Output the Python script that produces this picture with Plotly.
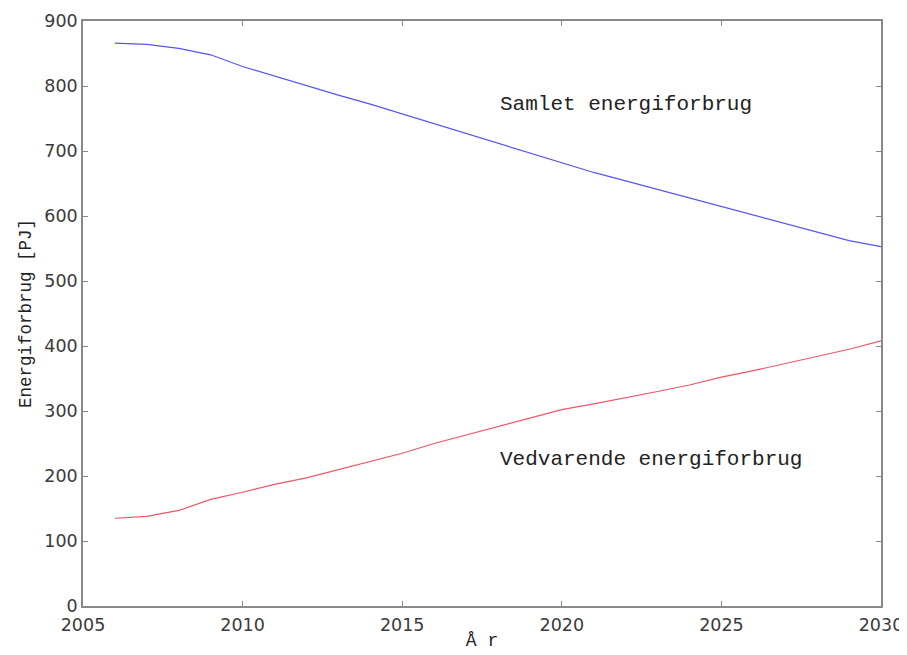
import plotly.graph_objects as go

years = list(range(2006, 2031))
samlet = [866, 864, 858, 848, 830, 815, 800, 786, 772, 757, 742, 727, 713, 697,
          683, 667, 654, 641, 627, 614, 601, 588, 575, 562, 553]
vedvarende = [135, 138, 147, 164, 175, 187, 197, 210, 222, 235, 250, 263, 276, 290,
              302, 311, 320, 330, 340, 352, 362, 373, 383, 395, 408]

x_ticks = [2005, 2010, 2015, 2020, 2025, 2030]
y_ticks = [0, 100, 200, 300, 400, 500, 600, 700, 800, 900]

fig = go.Figure()
fig.add_trace(go.Scatter(x=years, y=samlet, mode="lines",
                         line=dict(color="#5555ee", width=1.2), showlegend=False))
fig.add_trace(go.Scatter(x=years, y=vedvarende, mode="lines",
                         line=dict(color="#ee5566", width=1.2), showlegend=False))

mono = "Liberation Mono, Courier New, monospace"
fig.add_annotation(x=2018.0, y=771, text="Samlet energiforbrug", showarrow=False,
                   xanchor="left", yanchor="middle", font=dict(family=mono, size=21, color="#222"))
fig.add_annotation(x=2018.0, y=225, text="Vedvarende energiforbrug", showarrow=False,
                   xanchor="left", yanchor="middle", font=dict(family=mono, size=21, color="#222"))

axis_common = dict(showgrid=False, zeroline=False, showline=True, linecolor="#888",
                   linewidth=1.5, mirror="ticks", ticks="inside", ticklen=5,
                   tickcolor="#888", automargin=False,
                   tickfont=dict(family="DejaVu Sans", size=17.5, color="#3a3a3a"))

fig.update_xaxes(range=[2005, 2030], tickvals=x_ticks, ticktext=[str(t) for t in x_ticks],
                 ticklabelstandoff=2,
                 title=dict(text="Å r", font=dict(family=mono, size=18, color="#222"), standoff=0),
                 **axis_common)
fig.update_yaxes(range=[0, 900], tickvals=y_ticks, ticktext=[str(t) for t in y_ticks],
                 title=dict(text="Energiforbrug [PJ]", font=dict(family=mono, size=17.5, color="#222"), standoff=8),
                 **axis_common)

fig.update_layout(width=907, height=655, plot_bgcolor="white", paper_bgcolor="white",
                  margin=dict(l=75, r=34, t=13, b=57))

fig.write_html("out.html")
